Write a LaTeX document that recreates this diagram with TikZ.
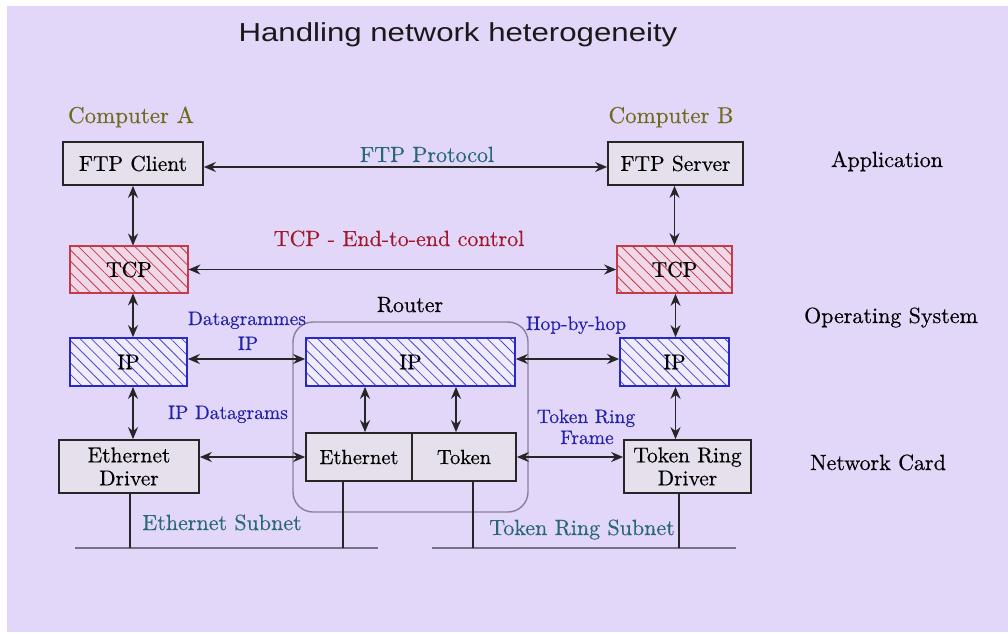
\documentclass[tikz,border=0pt]{standalone}
\usepackage{fontspec}
\setmainfont{lmroman10-regular.otf}[FakeBold=0.4]
\newfontfamily\titlefont{Liberation Sans}
\usetikzlibrary{arrows.meta,patterns.meta,calc}
\definecolor{bg}{RGB}{227,215,249}
\definecolor{boxfill}{RGB}{229,224,236}
\definecolor{tcpred}{RGB}{196,58,74}
\definecolor{tcpfill}{RGB}{240,216,232}
\definecolor{ipblue}{RGB}{40,40,200}
\definecolor{ipfill}{RGB}{240,236,252}
\definecolor{olive}{RGB}{112,106,32}
\definecolor{tealc}{RGB}{40,104,118}
\definecolor{darkred}{RGB}{160,24,44}
\definecolor{lblue}{RGB}{34,34,170}
\definecolor{routergray}{RGB}{138,128,150}
\definecolor{netgray}{RGB}{120,114,136}
\tikzset{
  every node/.style={font=\fontsize{22}{24}\selectfont},
  plainbox/.style={draw=black!85, line width=1.7pt, fill=boxfill, inner sep=0pt, align=center, font=\fontsize{21.5}{23}\selectfont},
  tcpbox/.style={draw=tcpred, line width=1.7pt, inner sep=0pt, preaction={fill=tcpfill},
    pattern={Lines[angle=-45,distance=8pt,line width=0.8pt]}, pattern color=tcpred, font=\fontsize{21.5}{23}\selectfont},
  ipbox/.style={draw=ipblue, line width=1.7pt, inner sep=0pt, preaction={fill=ipfill},
    pattern={Lines[angle=-45,distance=8pt,line width=0.8pt]}, pattern color=ipblue!85, font=\fontsize{21.5}{23}\selectfont},
  biarrow/.style={line width=1.8pt, black!85, {Stealth[length=12pt,width=10pt]}-{Stealth[length=12pt,width=10pt]}},
  netline/.style={line width=1.8pt, netgray},
  dropline/.style={line width=1.8pt, black!85},
  lbl/.style={inner sep=0pt, anchor=base},
  bluelbl/.style={lbl, text=lblue, font=\fontsize{19.5}{22}\selectfont, align=center},
}
\begin{document}
\begin{tikzpicture}[x=1pt,y=-1pt]
\fill[white] (0,0) rectangle (1008,632);
\fill[bg] (7,6) rectangle (1008,632);
\useasboundingbox (0,0) rectangle (1008,632);

% title
\node[lbl, font=\titlefont\fontsize{26}{28}\selectfont, xscale=1.2, transform shape, text=black!90] (title) at (458,41) {Handling network heterogeneity};

% router frame
\draw[routergray, line width=1.4pt, rounded corners=20pt] (293,322) rectangle (528,512);
\node[lbl] (routerlbl) at (410,312) {Router};

% boxes
\node[plainbox, minimum width=140pt, minimum height=43pt] (ftpc) at (133,163.5) {FTP Client};
\node[plainbox, minimum width=135pt, minimum height=43pt] (ftps) at (675.5,163.5) {FTP Server};
\node[tcpbox, minimum width=118pt, minimum height=47pt] (tcpa) at (129,269.5) {TCP};
\node[tcpbox, minimum width=115pt, minimum height=47pt] (tcpb) at (674.5,269.5) {TCP};
\node[ipbox, minimum width=117pt, minimum height=48pt] (ipa) at (128.5,362) {IP};
\node[ipbox, minimum width=209pt, minimum height=48pt] (ipr) at (410.5,362) {IP};
\node[ipbox, minimum width=109pt, minimum height=48pt] (ipb) at (674.5,362) {IP};
\node[plainbox, minimum width=140pt, minimum height=53pt] (ethd) at (129,466.5) {Ethernet\\Driver};
\node[plainbox, minimum width=106pt, minimum height=48pt, font=\fontsize{20.5}{23}\selectfont] (eth) at (359,457) {Ethernet};
\node[plainbox, minimum width=104pt, minimum height=48pt, font=\fontsize{20.5}{23}\selectfont] (tok) at (464,457) {Token};
\node[plainbox, minimum width=127pt, minimum height=53pt] (trd) at (687.5,466.5) {Token Ring\\Driver};

% labels
\node[lbl, text=olive, font=\fontsize{23}{25}\selectfont] (compa) at (131,123) {Computer A};
\node[lbl, text=olive, font=\fontsize{23}{25}\selectfont] (compb) at (671,123) {Computer B};
\node[lbl, text=tealc] (ftpp) at (427,162) {FTP Protocol};
\node[lbl, text=darkred] (tcpl) at (399,246) {TCP - End-to-end control};
\node[bluelbl] (dgl) at (247,325) {Datagrammes};
\node[bluelbl] (dgl2) at (248,350) {IP};
\node[bluelbl] (hop) at (576,330) {Hop-by-hop};
\node[bluelbl] (ipdg) at (228,419) {IP Datagrams};
\node[bluelbl] (trf1) at (586,423) {Token Ring};
\node[bluelbl] (trf2) at (587,444) {Frame};
\node[lbl, text=tealc] (esub) at (222,530) {Ethernet Subnet};
\node[lbl, text=tealc] (tsub) at (582,535) {Token Ring Subnet};
\node[lbl] (app) at (887,167) {Application};
\node[lbl] (os) at (891,323) {Operating System};
\node[lbl] (nc) at (878,470) {Network Card};

% horizontal arrows
\draw[biarrow] ([yshift=-3.5pt]ftpc.east) -- ([yshift=-3.5pt]ftps.west);
\draw[biarrow] (tcpa.east) -- (tcpb.west);
\draw[biarrow] ([yshift=3pt]ipa.east) -- ([yshift=3pt]ipr.west);
\draw[biarrow] ([yshift=3pt]ipr.east) -- ([yshift=3pt]ipb.west);
\draw[biarrow] (eth.west -| ethd.east) -- (eth.west);
\draw[biarrow] (tok.east) -- (tok.east -| trd.west);

% vertical arrows
\draw[biarrow] (ftpc.south) -- (ftpc.south |- tcpa.north);
\draw[biarrow] (tcpa.south -| ftpc.south) -- (ipa.north -| ftpc.south);
\draw[biarrow] (ipa.south -| ftpc.south) -- (ethd.north -| ftpc.south);
\draw[biarrow] (ftps.south -| tcpb.north) -- (tcpb.north);
\draw[biarrow] ([xshift=1pt]tcpb.south) -- ([xshift=1pt]ipb.north);
\draw[biarrow] ([xshift=1pt]ipb.south) -- ([xshift=1pt]ipb.south |- trd.north);
\draw[biarrow] ([xshift=6pt]eth.north) -- ([xshift=6pt]eth.north |- ipr.south);
\draw[biarrow] ([xshift=-8pt]tok.north) -- ([xshift=-8pt]tok.north |- ipr.south);

% subnets
\coordinate (e1) at (75,548);
\coordinate (e2) at (378,548);
\coordinate (t1) at (432,548);
\coordinate (t2) at (736,548);
\draw[netline] (e1) -- (e2);
\draw[netline] (t1) -- (t2);
\draw[dropline] ([xshift=1pt]ethd.south) -- ([xshift=1pt]ethd.south |- e1);
\draw[dropline] ([xshift=-16pt]eth.south) -- ([xshift=-16pt]eth.south |- e1);
\draw[dropline] ([xshift=9pt]tok.south) -- ([xshift=9pt]tok.south |- t1);
\draw[dropline] ([xshift=-8.5pt]trd.south) -- ([xshift=-8.5pt]trd.south |- t1);
\end{tikzpicture}
\end{document}
